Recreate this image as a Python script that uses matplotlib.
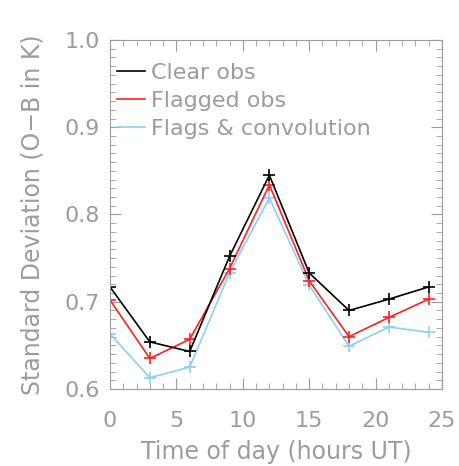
import matplotlib
matplotlib.use("Agg")
import matplotlib.pyplot as plt
from matplotlib.ticker import MultipleLocator
from matplotlib.lines import Line2D

# hours UT
hours = [0, 3, 6, 9, 12, 15, 18, 21, 24]
clear_obs = [0.717, 0.654, 0.643, 0.752, 0.845, 0.733, 0.690, 0.703, 0.717]
flagged_obs = [0.702, 0.635, 0.657, 0.738, 0.834, 0.724, 0.660, 0.682, 0.703]
flags_conv = [0.663, 0.613, 0.625, 0.733, 0.819, 0.719, 0.649, 0.671, 0.665]

labels = ["Clear obs", "Flagged obs", "Flags & convolution"]
colors = ["black", "#ff2020", "#8fd0f0"]

grey = "#9c9c9c"

fig = plt.figure(figsize=(4.6, 4.66), dpi=100)
ax = fig.add_axes([110 / 460, 1 - 389 / 466, 332 / 460, 349 / 466])

# draw lightest first so black sits on top
for vals, c in reversed(list(zip([clear_obs, flagged_obs, flags_conv], colors))):
    ax.plot(hours, vals, color=c, lw=1.2, marker="+", ms=9, mew=1.2)

ax.set_xlim(0, 25)
ax.set_ylim(0.6, 1.0)
ax.xaxis.set_major_locator(MultipleLocator(5))
ax.xaxis.set_minor_locator(MultipleLocator(1))
ax.yaxis.set_major_locator(MultipleLocator(0.1))
ax.yaxis.set_minor_locator(MultipleLocator(0.01))
ax.yaxis.set_major_formatter(plt.FormatStrFormatter("%.1f"))

ax.tick_params(which="both", direction="in", top=True, right=True, color=grey,
               labelcolor=grey, labelsize=16)
ax.tick_params(axis="x", which="major", pad=16)
ax.tick_params(axis="y", which="major", pad=7)
ax.tick_params(which="major", length=8)
ax.tick_params(which="minor", length=4)
for s in ax.spines.values():
    s.set_color(grey)

ax.set_xlabel("Time of day (hours UT)", color=grey, fontsize=17, labelpad=6)
ax.set_ylabel("Standard Deviation (O\u2212B in K)", color=grey, fontsize=17, labelpad=15)

# legend: plain lines, no markers, no frame
h = [Line2D([], [], color=c, lw=1.2) for c in colors]
leg = ax.legend(h, labels, loc="upper left", frameon=False, fontsize=16,
                handlelength=1.27, handletextpad=0.25, borderaxespad=0.0,
                borderpad=0.0, labelspacing=0.35, bbox_to_anchor=(0.021, 0.934))
for t in leg.get_texts():
    t.set_color(grey)

fig.savefig("out.png", dpi=100)
